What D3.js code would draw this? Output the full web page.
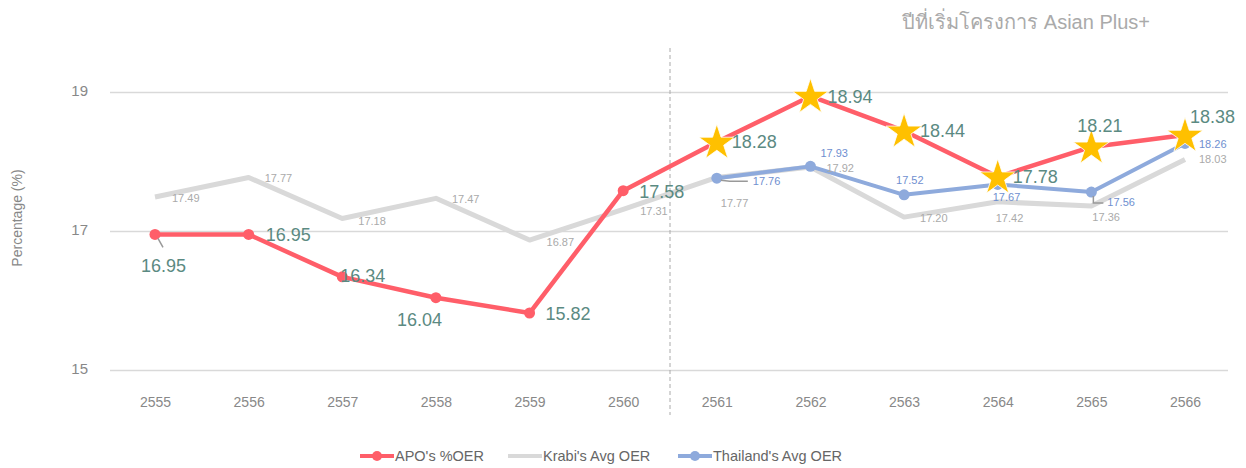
<!DOCTYPE html>
<html>
<head>
<meta charset="utf-8">
<script src="https://cdn.jsdelivr.net/npm/d3@7"></script>
<style>
  body { margin: 0; background: #fff; }
  svg { font-family: "Liberation Sans", "Noto Sans", "DejaVu Sans", sans-serif; }
</style>
</head>
<body>
<div id="mainDiv"></div>
<script>
'use strict';

// data
var years = ['2555', '2556', '2557', '2558', '2559', '2560', '2561', '2562', '2563', '2564', '2565', '2566'];
var apoOer = [16.95, 16.95, 16.34, 16.04, 15.82, 17.58, 18.28, 18.94, 18.44, 17.78, 18.21, 18.38];
var krabiOer = [17.49, 17.77, 17.18, 17.47, 16.87, 17.31, 17.77, 17.92, 17.20, 17.42, 17.36, 18.03];
var thaiOer = [null, null, null, null, null, null, 17.76, 17.93, 17.52, 17.67, 17.56, 18.26];
var yTicks = [15, 17, 19];
var startYear = '2561';
var titleText = 'ปีที่เริ่มโครงการ Asian Plus+';

// label placement (dx, dy from the point)
var apoLabelPos = [[-14, 32], [17, 1], [-2, -1], [-39, 22], [16, 1], [16, 1], [15, 0], [17, 1], [16, 0], [15, 0], [-14, -21], [5, -18]];
var krabiLabelPos = [[17, 1], [16, 1], [16, 3], [16, 1], [17, 2], [17, 2], [4, 26], [16, 1], [16, 1], [-2, 16], [1, 11], [14, 0]];
var thaiLabelPos = [null, null, null, null, null, null, [36, 3], [10, -13], [-8, -15], [-5, 13], [16, 10], [14, 1]];

var W = 1246, H = 468;
var colors = { apo: '#ff5e69', krabi: '#d9d9d9', thai: '#8eaadc', star: '#ffc000' };

var svg = d3.select('#mainDiv').append('svg')
    .attr('width', W)
    .attr('height', H);

var x = d3.scalePoint().domain(years).range([155, 1185]);
var y = d3.scaleLinear().domain([15, 19]).range([370, 92]);

// grid + y axis
var yAxis = d3.axisLeft(y).tickValues(yTicks).tickSize(-1118).tickPadding(22).tickFormat(d3.format('d'));
var yg = svg.append('g').attr('transform', 'translate(110,0)').call(yAxis);
yg.select('.domain').remove();
yg.selectAll('.tick line').attr('stroke', '#d9d9d9').attr('stroke-width', 1.5);
yg.selectAll('.tick text').attr('fill', '#888').attr('font-size', 15).attr('dy', '0.2em');

// x axis labels
var xAxis = d3.axisBottom(x).tickSize(0).tickPadding(27);
var xg = svg.append('g').attr('transform', 'translate(0,370)').call(xAxis);
xg.select('.domain').remove();
xg.selectAll('.tick text').attr('fill', '#888').attr('font-size', 14);

svg.append('text')
    .attr('transform', 'translate(22,218) rotate(-90)')
    .attr('text-anchor', 'middle')
    .attr('fill', '#888')
    .attr('font-size', 14)
    .text('Percentage (%)');

// divider at project start
var divX = (x('2560') + x(startYear)) / 2;
svg.append('line')
    .attr('x1', divX).attr('x2', divX)
    .attr('y1', 48).attr('y2', 415)
    .attr('stroke', '#aaa')
    .attr('stroke-dasharray', '4,3');

svg.append('text')
    .attr('x', 1150).attr('y', 29)
    .attr('text-anchor', 'end')
    .attr('fill', '#aaa')
    .attr('font-size', 20)
    .text(titleText);

function series(vals) {
    return years.map(function (yr, i) { return { year: yr, v: vals[i], i: i }; })
        .filter(function (d) { return d.v !== null; });
}

var line = d3.line()
    .x(function (d) { return x(d.year); })
    .y(function (d) { return y(d.v); });

var krabi = series(krabiOer), apo = series(apoOer), thai = series(thaiOer);

svg.append('path').datum(krabi).attr('d', line)
    .attr('fill', 'none').attr('stroke', colors.krabi).attr('stroke-width', 5).attr('stroke-linejoin', 'round');
svg.append('path').datum(thai).attr('d', line)
    .attr('fill', 'none').attr('stroke', colors.thai).attr('stroke-width', 4).attr('stroke-linejoin', 'round');
svg.selectAll('circle.thai').data(thai).enter().append('circle')
    .attr('class', 'thai')
    .attr('cx', function (d) { return x(d.year); })
    .attr('cy', function (d) { return y(d.v); })
    .attr('r', 5.5)
    .attr('fill', colors.thai);
svg.append('path').datum(apo).attr('d', line)
    .attr('fill', 'none').attr('stroke', colors.apo).attr('stroke-width', 4.5).attr('stroke-linejoin', 'round');

var yearIdx = years.indexOf(startYear);
svg.selectAll('circle.apo').data(apo.filter(function (d) { return d.i < yearIdx; })).enter().append('circle')
    .attr('class', 'apo')
    .attr('cx', function (d) { return x(d.year); })
    .attr('cy', function (d) { return y(d.v); })
    .attr('r', 5.5)
    .attr('fill', colors.apo);

var star = d3.symbol().type(d3.symbolStar).size(400);
svg.selectAll('path.star').data(apo.filter(function (d) { return d.i >= yearIdx; })).enter().append('path')
    .attr('class', 'star')
    .attr('transform', function (d) { return 'translate(' + x(d.year) + ',' + (y(d.v) + 1) + ')'; })
    .attr('d', star)
    .attr('fill', colors.star)
    .attr('stroke', '#fff')
    .attr('stroke-width', 0.8);

// leader lines
function leader(pts) {
    svg.append('polyline')
        .attr('points', pts.map(function (p) { return p.join(','); }).join(' '))
        .attr('fill', 'none').attr('stroke', '#999').attr('stroke-width', 1.5);
}
leader([[x('2555') + 3, y(16.95) + 4], [x('2555') + 8, y(16.95) + 13]]);
leader([[x('2561') + 4, y(17.76) + 2], [x('2561') + 13, y(17.76) + 3], [x('2561') + 31, y(17.76) + 3]]);
leader([[x('2565') + 2, y(17.56) + 4], [x('2565') + 2, y(17.56) + 11], [x('2565') + 12, y(17.56) + 11]]);

function labels(data, pos, size, color) {
    svg.append('g').selectAll('text').data(data).enter().append('text')
        .attr('x', function (d) { return x(d.year) + pos[d.i][0]; })
        .attr('y', function (d) { return y(d.v) + pos[d.i][1]; })
        .attr('dominant-baseline', 'central')
        .attr('font-size', size)
        .attr('fill', color)
        .text(function (d) { return d.v.toFixed(2); });
}
labels(krabi, krabiLabelPos, 11, '#aaa');
labels(thai, thaiLabelPos, 11, '#6f8fd0');
labels(apo, apoLabelPos, 18, '#5b8a82');

// legend
var legend = [
    { name: "APO's %OER", color: colors.apo, x: 360, dot: true },
    { name: "Krabi's Avg OER", color: colors.krabi, x: 508, dot: false },
    { name: "Thailand's Avg OER", color: colors.thai, x: 678, dot: true }
];
var lg = svg.append('g').selectAll('g').data(legend).enter().append('g')
    .attr('transform', function (d) { return 'translate(' + d.x + ',456)'; });
lg.append('line').attr('x1', 0).attr('x2', 34).attr('stroke', function (d) { return d.color; }).attr('stroke-width', 4);
lg.filter(function (d) { return d.dot; }).append('circle').attr('cx', 17).attr('r', 5).attr('fill', function (d) { return d.color; });
lg.append('text').attr('x', 35).attr('dominant-baseline', 'central')
    .attr('font-size', 14.5).attr('fill', '#666')
    .text(function (d) { return d.name; });
</script>
</body>
</html>
